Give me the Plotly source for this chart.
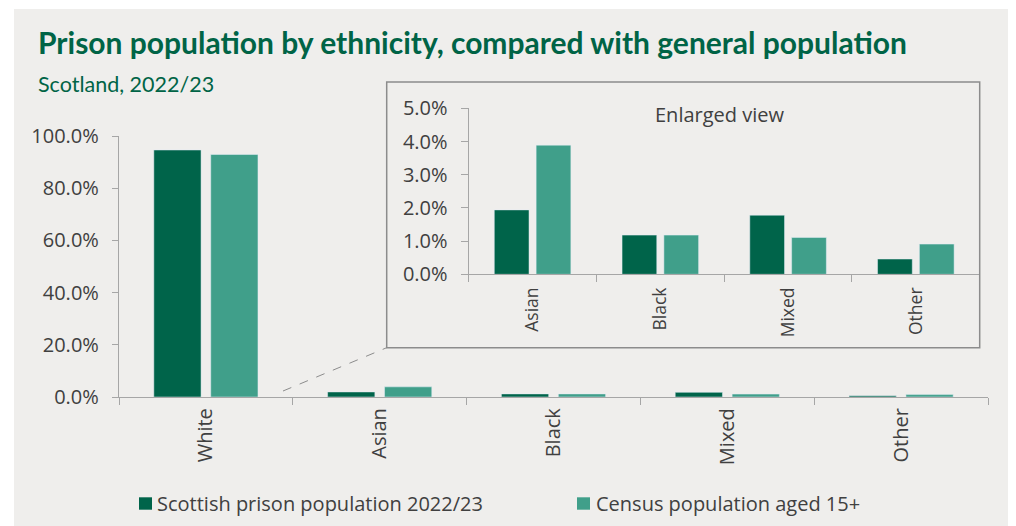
import plotly.graph_objects as go

# Ethnic group shares (%), Scotland 2022/23
categories = ["White", "Asian", "Black", "Mixed", "Other"]
prison_pct = [94.64, 1.94, 1.18, 1.78, 0.46]
census_pct = [92.91, 3.89, 1.18, 1.11, 0.91]
series_names = ["Scottish prison population 2022/23", "Census population aged 15+"]

# The enlarged panel shows every group except the first
inset_categories = categories[1:]
inset_prison = prison_pct[1:]
inset_census = census_pct[1:]

main_ticks = [0, 20, 40, 60, 80, 100]
inset_ticks = [0, 1, 2, 3, 4, 5]

DARK = "#00644a"
TEAL = "#409f8a"
BG = "#efeeec"
TEXT = "#404040"
AXIS = "#a6a6a6"
GREEN_TITLE = "#006446"

W, H = 1016, 526
ML, MR, MT, MB = 119, 28, 100, 129
PW, PH = W - ML - MR, H - MT - MB


def px(x):
    return (x - ML) / PW


def py(y):
    return (H - MB - y) / PH


fig = go.Figure()

fig.add_trace(go.Bar(x=categories, y=prison_pct, name=series_names[0],
                     marker_color=DARK, xaxis="x", yaxis="y", showlegend=False))
fig.add_trace(go.Bar(x=categories, y=census_pct, name=series_names[1],
                     marker_color=TEAL, xaxis="x", yaxis="y", showlegend=False))
fig.add_trace(go.Bar(x=inset_categories, y=inset_prison, name=series_names[0],
                     marker_color=DARK, xaxis="x2", yaxis="y2", showlegend=False))
fig.add_trace(go.Bar(x=inset_categories, y=inset_census, name=series_names[1],
                     marker_color=TEAL, xaxis="x2", yaxis="y2", showlegend=False))

tick_font = dict(family="Open Sans", size=20, color=TEXT)

main_top = py(136)
fig.update_layout(
    width=W, height=H,
    margin=dict(l=ML, r=MR, t=MT, b=MB, pad=0),
    paper_bgcolor="white",
    plot_bgcolor="rgba(0,0,0,0)",
    barmode="group",
    bargap=0.345,
    bargroupgap=0.17,
    xaxis=dict(domain=[0, 1], showline=True, linecolor=AXIS, linewidth=1.3,
               ticks="outside", tickson="boundaries", ticklen=7, tickcolor=AXIS,
               tickwidth=1.3, tickangle=-90, tickfont=tick_font, showgrid=False,
               ticklabelstandoff=2, anchor="y"),
    yaxis=dict(domain=[0, main_top], range=[0, 100], tickvals=main_ticks,
               ticktext=[f"{v:.1f}%" for v in main_ticks], showline=True,
               linecolor=AXIS, linewidth=1.3, ticks="outside", ticklen=6,
               tickcolor=AXIS, tickwidth=1.3, tickfont=tick_font,
               ticklabelstandoff=9, showgrid=False, zeroline=False, anchor="x"),
    xaxis2=dict(domain=[px(468.7), px(979.7)], showline=True, linecolor=AXIS,
                linewidth=1.3, ticks="outside", tickson="boundaries", ticklen=7,
                tickcolor=AXIS, tickwidth=1.3, tickangle=-90,
                tickfont=dict(family="Open Sans", size=17.5, color=TEXT),
                ticklabelstandoff=5, showgrid=False, anchor="y2"),
    yaxis2=dict(domain=[py(274.3), py(108.3)], range=[0, 5], tickvals=inset_ticks,
                ticktext=[f"{v:.1f}%" for v in inset_ticks], showline=True,
                linecolor=AXIS, linewidth=1.3, ticks="outside", ticklen=7,
                tickcolor=AXIS, tickwidth=1.3, tickfont=tick_font,
                ticklabelstandoff=9, showgrid=False, zeroline=False, anchor="x2"),
)

shapes = [
    # panel background
    dict(type="rect", xref="paper", yref="paper", x0=px(14), x1=px(1008),
         y0=py(530), y1=py(9), fillcolor=BG, line=dict(width=0), layer="below"),
    # inset frame
    dict(type="rect", xref="paper", yref="paper", x0=px(386.7), x1=px(979.7),
         y0=py(347.7), y1=py(82), line=dict(color="#8c8c8c", width=1.5),
         fillcolor="rgba(0,0,0,0)", layer="above"),
    # leader line towards the inset
    dict(type="line", xref="paper", yref="paper", x0=px(283), x1=px(386.7),
         y0=py(391), y1=py(347.7), line=dict(color="#8c8c8c", width=1, dash="dash")),
]

# legend keys
legend_x = [139, 577]
for lx, color in zip(legend_x, [DARK, TEAL]):
    shapes.append(dict(type="rect", xref="paper", yref="paper", x0=px(lx),
                       x1=px(lx + 13), y0=py(509.7), y1=py(497.3),
                       fillcolor=color, line=dict(width=0)))
fig.update_layout(shapes=shapes)

annotations = [
    dict(text="<b>Prison population by ethnicity, compared with general population</b>",
         xref="paper", yref="paper", x=px(36), y=py(42), xanchor="left",
         yanchor="middle", showarrow=False,
         font=dict(family="Lato", size=30, color=GREEN_TITLE)),
    dict(text="Scotland, 2022/23", xref="paper", yref="paper", x=px(36),
         y=py(84), xanchor="left", yanchor="middle", showarrow=False,
         font=dict(family="Lato", size=21.5, color=GREEN_TITLE)),
    dict(text="Enlarged view", xref="paper", yref="paper", x=px(720),
         y=py(114), xanchor="center", yanchor="middle", showarrow=False,
         font=dict(family="Open Sans", size=20, color=TEXT)),
]
legend_text_x = [157, 595.7]
for tx, name in zip(legend_text_x, series_names):
    annotations.append(dict(text=name, xref="paper", yref="paper", x=px(tx),
                            y=py(503.5), xanchor="left", yanchor="middle",
                            showarrow=False, xshift=-2,
                            font=dict(family="Open Sans", size=20, color=TEXT)))
fig.update_layout(annotations=annotations)

fig.write_html("out.html")
